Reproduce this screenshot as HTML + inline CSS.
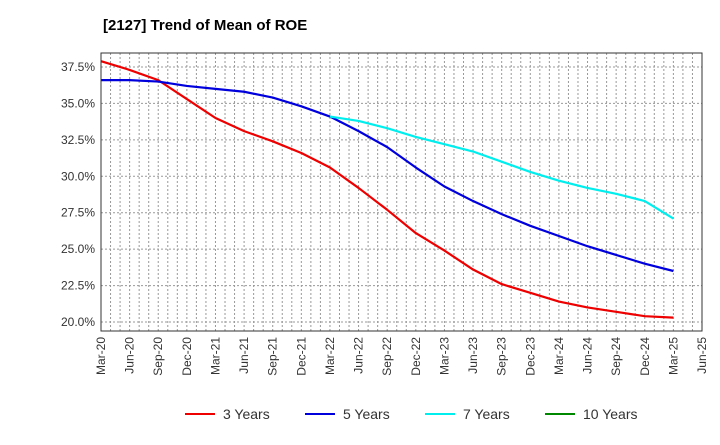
<!DOCTYPE html>
<html><head><meta charset="utf-8"><style>
body{margin:0;background:#fff;font-family:"Liberation Sans",Arial,sans-serif}
</style></head><body>
<svg id="c" width="720" height="440">
<text x="103" y="30" font-size="15" font-weight="bold">[2127]  Trend of Mean of ROE</text>
<g id="grid"></g><g id="series"></g><g id="axes"></g><g id="legend"></g>
</svg>
<script>
const xLabels=["Mar-20","Jun-20","Sep-20","Dec-20","Mar-21","Jun-21","Sep-21","Dec-21","Mar-22","Jun-22","Sep-22","Dec-22","Mar-23","Jun-23","Sep-23","Dec-23","Mar-24","Jun-24","Sep-24","Dec-24","Mar-25","Jun-25"];
const yTicks=[20.0,22.5,25.0,27.5,30.0,32.5,35.0,37.5];
const s3=[37.9,37.3,36.6,35.3,34.0,33.1,32.4,31.6,30.6,29.2,27.7,26.1,24.9,23.6,22.6,22.0,21.4,21.0,20.7,20.4,20.3];
const s5=[36.6,36.6,36.5,36.2,36.0,35.8,35.4,34.8,34.1,33.1,32.0,30.6,29.3,28.3,27.4,26.6,25.9,25.2,24.6,24.0,23.5];
const s7=[null,null,null,null,null,null,null,null,34.1,33.8,33.3,32.7,32.2,31.7,31.0,30.3,29.7,29.2,28.8,28.3,27.1];
const s10=[];
const names=["3 Years","5 Years","7 Years","10 Years"];
const colors=["#ee0000","#0000dd","#00eeee","#008800"];
const L=101,R=702,T=53,B=331;
const xs=i=>L+(R-L)*i/21;
const ys=v=>322-(v-20)/2.5*36.43;
const NS="http://www.w3.org/2000/svg";
function mk(t,a,p){const e=document.createElementNS(NS,t);for(const k in a)e.setAttribute(k,a[k]);p.appendChild(e);return e;}
const g=document.getElementById('grid'),ax=document.getElementById('axes'),sg=document.getElementById('series'),lg=document.getElementById('legend');
for(let m=1;m<63;m++){const x=L+(R-L)*m/63;const l=mk('line',{x1:x,x2:x,y1:T,y2:B,stroke:'#999','stroke-dasharray':'2,2','stroke-width':1},g);

}
yTicks.forEach(v=>{const y=ys(v);const l=mk('line',{x1:L,x2:R,y1:y,y2:y,stroke:'#999','stroke-dasharray':'2,2'},g);


const t=mk('text',{x:L-6,y:y+4,'text-anchor':'end','font-size':12,fill:'#333'},ax);t.textContent=v.toFixed(1)+'%';

});
const fr=mk('rect',{x:L,y:T,width:R-L,height:B-T,fill:'none',stroke:'#333'},ax);


xLabels.forEach((s,i)=>{const x=xs(i);const t=mk('text',{x:x+4,y:B+6,'text-anchor':'end','font-size':12,fill:'#333',transform:`rotate(-90 ${x+4} ${B+6})`},ax);t.textContent=s;

});
[s3,s5,s7,s10].forEach((s,k)=>{let d='';s.forEach((v,i)=>{if(v==null)return;d+=(d?'L':'M')+xs(i)+','+ys(v);});
if(d){const p=mk('path',{d:d,fill:'none',stroke:colors[k],'stroke-width':2.2,'stroke-linejoin':'round'},sg);

}});
const lx=[185,305,425,545];
names.forEach((n,k)=>{const l=mk('line',{x1:lx[k],x2:lx[k]+30,y1:414,y2:414,stroke:colors[k],'stroke-width':2},lg);


const t=mk('text',{x:lx[k]+38,y:419,'font-size':14,fill:'#333'},lg);t.textContent=n;

});
</script>
</body></html>
